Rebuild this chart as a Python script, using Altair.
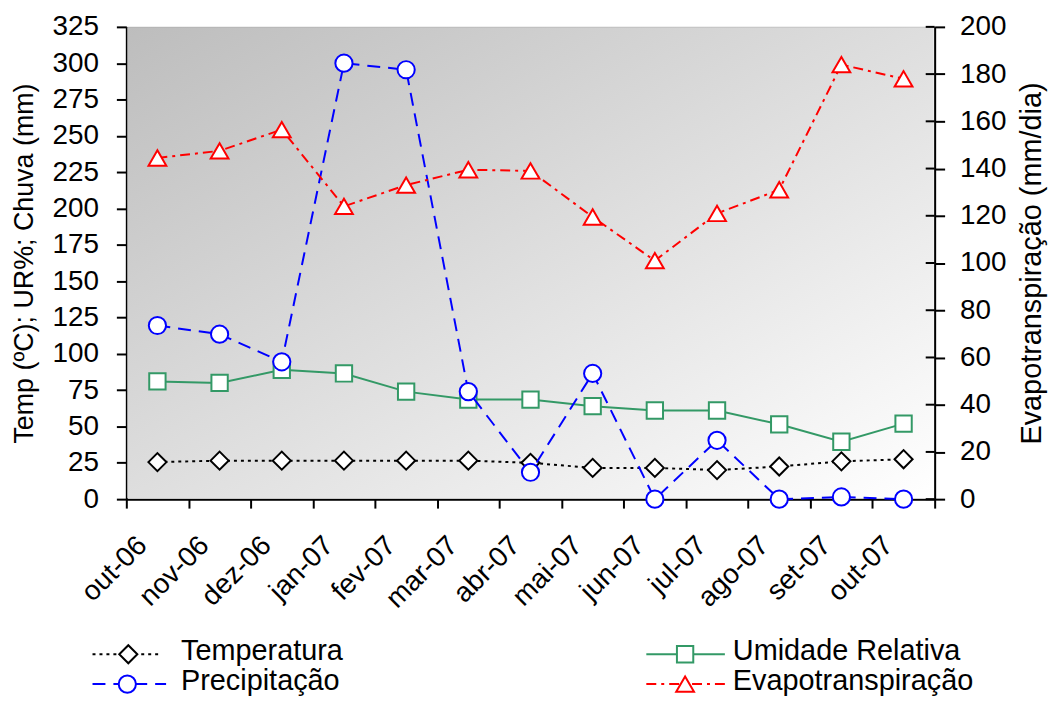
import json
import altair as alt
import pandas as pd

# ---------------- data ----------------
months = ["out-06", "nov-06", "dez-06", "jan-07", "fev-07", "mar-07", "abr-07",
          "mai-07", "jun-07", "jul-07", "ago-07", "set-07", "out-07"]
temperatura = [25.5, 26.5, 26.5, 26.5, 26.5, 26.5, 25.0, 21.5, 21.5, 20.0, 22.5, 26.0, 27.5]
umidade = [81.0, 80.0, 89.0, 86.5, 74.0, 68.5, 68.5, 64.0, 61.0, 61.0, 51.5, 39.5, 52.0]
precipitacao = [119.5, 113.5, 94.5, 300.0, 295.5, 74.0, 18.5, 86.5, 0.0, 40.5, 0.0, 1.5, 0.0]
evapotranspiracao = [144.5, 147.5, 156.5, 124.0, 133.0, 139.5, 139.0, 119.5, 101.0, 121.0, 131.0, 184.0, 178.0]
left_ticks = list(range(0, 326, 25))
right_ticks = list(range(0, 201, 20))

series_names = ["Temperatura", "Umidade Relativa", "Precipitação", "Evapotranspiração"]
left_title = "Temp (ºC); UR%; Chuva (mm)"
right_title = "Evapotranspiração (mm/dia)"

df = pd.DataFrame({
    "pos": [i + 0.5 for i in range(len(months))],   # mid-month
    "mes": months,
    "temp": temperatura,
    "umid": umidade,
    "prec": precipitacao,
    "evap": evapotranspiracao,
})
rt = pd.DataFrame({"v": right_ticks})

# ---------------- style ----------------
FONT = "Liberation Sans"
W, H = 813, 475
BLACK, GREEN, BLUE, RED = "#000000", "#339966", "#0000FF", "#FF0000"

label_expr = "datum.value < 13 ? " + json.dumps(months) + "[datum.value] : ''"

x_enc = alt.X(
    "pos:Q",
    scale=alt.Scale(domain=[0, 13], nice=False, zero=False),
    axis=alt.Axis(values=list(range(14)), labelExpr=label_expr, labelAngle=315,
                  labelAlign="right", labelBaseline="middle", labelOffset=16,
                  labelPadding=33, tickSize=9, title=None, orient="bottom",
                  labelOverlap=False, labelFlush=False),
)

left_scale = alt.Scale(domain=[0, 325], nice=False, zero=True)
right_scale = alt.Scale(domain=[0, 200], nice=False, zero=True)
left_axis = alt.Axis(values=left_ticks, orient="left", title=left_title,
                     tickSize=10, labelPadding=18, titlePadding=14, titleFontSize=27,
                     labelOverlap=False, labelFlush=False)
right_axis = alt.Axis(values=right_ticks, orient="right", title=right_title,
                      tickSize=10, labelPadding=15, titlePadding=12, titleFontSize=29,
                      titleAngle=270, titleBaseline="top",
                      labelOverlap=False, labelFlush=False)


def yl(col):
    return alt.Y(f"{col}:Q", scale=left_scale, axis=left_axis, title=left_title)


def yr(col):
    return alt.Y(f"{col}:Q", scale=right_scale, axis=right_axis, title=right_title)


def series(col, yfun, color, shape, size, dash=None):
    lkw = dict(color=color, strokeWidth=2)
    if dash:
        lkw["strokeDash"] = dash
    line = alt.Chart(df).mark_line(**lkw).encode(x=x_enc, y=yfun(col))
    pts = alt.Chart(df).mark_point(shape=shape, size=size, filled=True, fill="white",
                                   stroke=color, strokeWidth=2, opacity=1).encode(
        x=x_enc, y=yfun(col))
    return [line, pts]


def legend_item(label, color, shape, size, dash, xl, xr, xm, xt, ys, yt):
    d = pd.DataFrame({"label": [label]})
    rkw = dict(color=color, strokeWidth=2)
    if dash:
        rkw["strokeDash"] = dash
    rule = alt.Chart(d).mark_rule(**rkw).encode(
        x=alt.value(xl), x2=alt.value(xr), y=alt.value(ys))
    pt = alt.Chart(d).mark_point(shape=shape, size=size, filled=True, fill="white",
                                 stroke=color, strokeWidth=2, opacity=1).encode(
        x=alt.value(xm), y=alt.value(ys))
    txt = alt.Chart(d).mark_text(align="left", baseline="alphabetic", font=FONT,
                                 fontSize=29, color="black").encode(
        x=alt.value(xt), y=alt.value(yt), text="label:N")
    return [rule, pt, txt]


DASH_T = [3, 4]
DASH_P = [13, 8]
DASH_E = [10, 5, 3, 5]

bg = alt.Chart(pd.DataFrame({"bg": [0]})).mark_rect(
    fill=alt.LinearGradient(gradient="linear", x1=0, y1=0, x2=1, y2=1,
                            stops=[alt.GradientStop(color="#BDBDBD", offset=0),
                                   alt.GradientStop(color="#FFFFFF", offset=1)])
).encode(x=alt.value(1), x2=alt.value(W - 1), y=alt.value(0.5), y2=alt.value(H - 1))

left_layers = [bg]
left_layers += series("temp", yl, BLACK, "diamond", 330, DASH_T)
left_layers += series("umid", yl, GREEN, "square", 270)
left_layers += series("prec", yl, BLUE, "circle", 300, DASH_P)

# legend (2 x 2, below the axis labels)
R1S, R1T, R2S, R2T = 631, 637, 661, 667
left_layers += legend_item(series_names[0], BLACK, "diamond", 330, DASH_T, -34, 36, 2, 55, R1S, R1T)
left_layers += legend_item(series_names[1], GREEN, "square", 270, None, 523, 602, 562, 610, R1S, R1T)
left_layers += legend_item(series_names[2], BLUE, "circle", 300, DASH_P, -34, 40, 1, 55, R2S, R2T)
left_layers += legend_item(series_names[3], RED, "triangle-up", 320, DASH_E, 523, 602, 562, 610, R2S, R2T)

inner_ticks = alt.Chart(rt).mark_rule(color=BLACK, strokeWidth=2).encode(
    y=alt.Y("v:Q", scale=right_scale, axis=right_axis, title=right_title),
    x=alt.value(W - 9), x2=alt.value(W))

right_layers = [inner_ticks] + series("evap", yr, RED, "triangle-up", 320, DASH_E)

left_group = alt.layer(*left_layers)
right_group = alt.layer(*right_layers)

chart = alt.layer(left_group, right_group).resolve_scale(y="independent").properties(
    width=W, height=H,
    padding={"left": 119, "top": 17, "right": 116, "bottom": 196},
    autosize=alt.AutoSizeParams(type="none"),
    background="white",
).configure_view(
    stroke="#8C8C8C", strokeWidth=1
).configure_axis(
    grid=False, domainColor=BLACK, domainWidth=2, tickColor=BLACK, tickWidth=2,
    labelFont=FONT, labelFontSize=28, labelColor=BLACK,
    titleFont=FONT, titleFontSize=28, titleFontWeight="normal", titleColor=BLACK,
)

chart.save("out.html", embed_options={"renderer": "svg", "actions": False})
